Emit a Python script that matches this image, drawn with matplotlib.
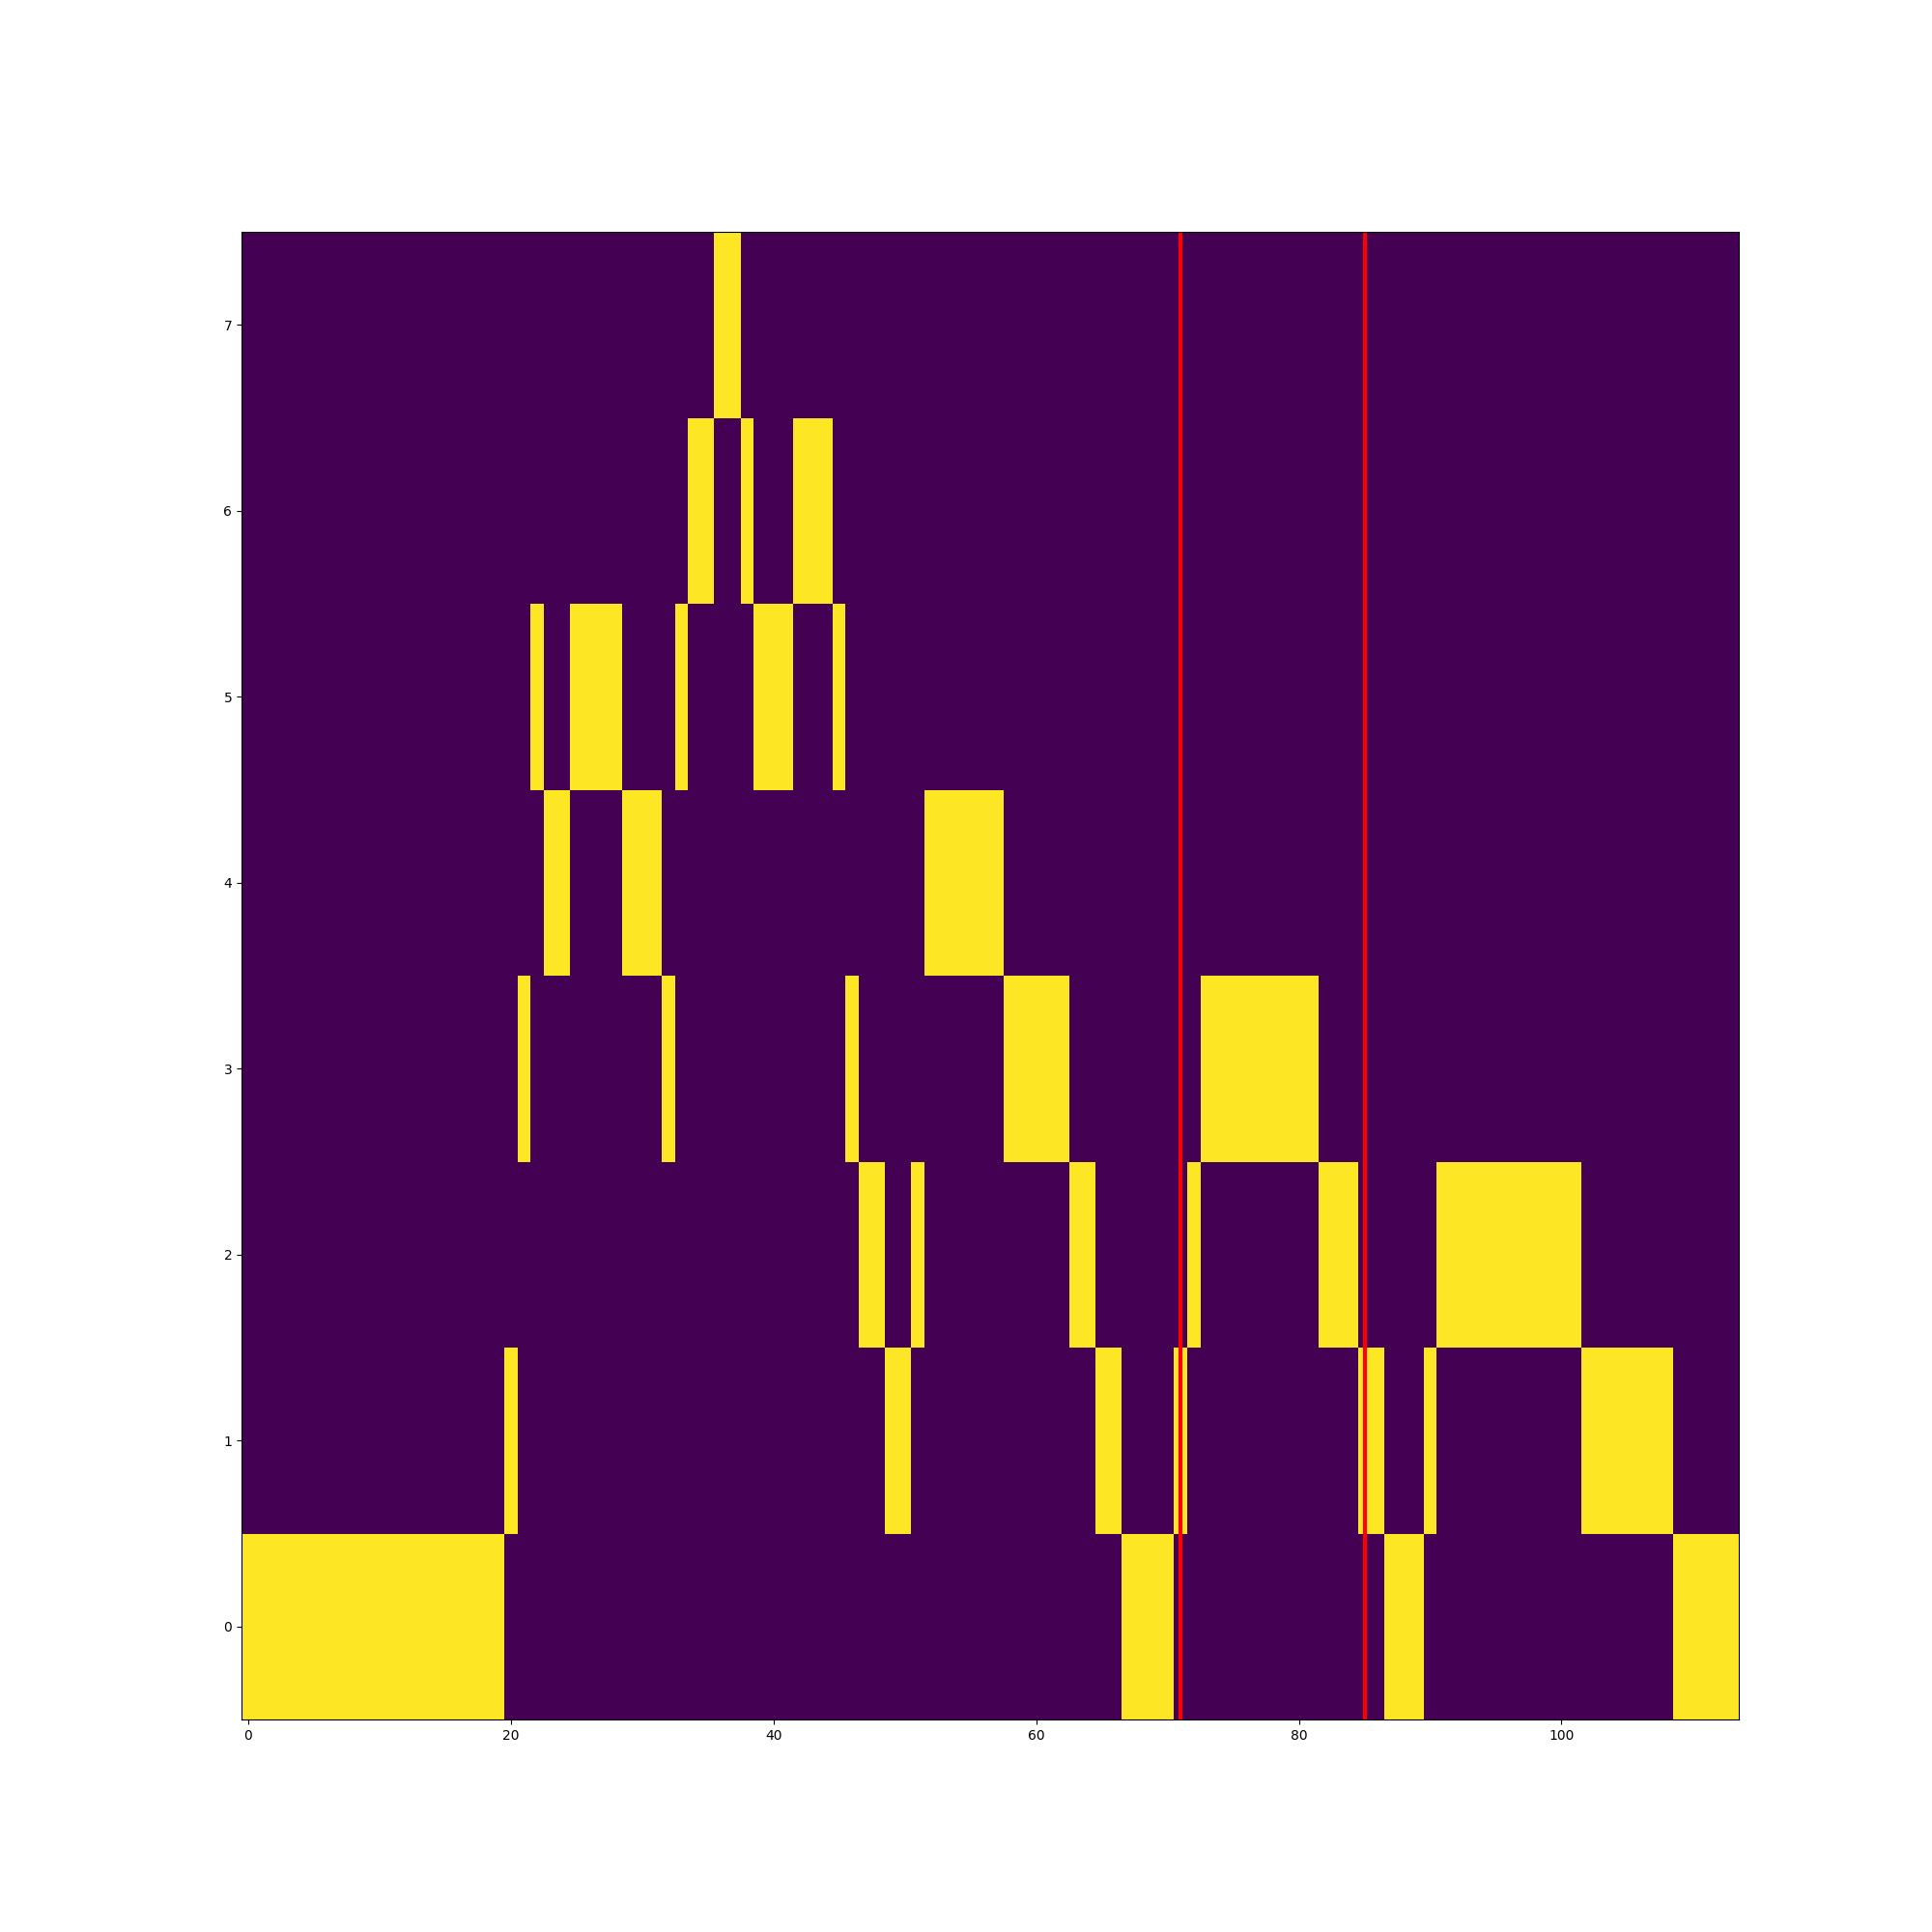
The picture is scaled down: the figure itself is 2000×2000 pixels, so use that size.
import numpy as np
from matplotlib import pyplot as plt

# state visited at each step (one yellow cell per column)
states = [0, 0, 0, 0, 0, 0, 0, 0, 0, 0, 0, 0, 0, 0, 0, 0, 0, 0, 0, 0,
          1, 3, 5, 4, 4, 5, 5, 5, 5, 4, 4, 4, 3, 5, 6, 6, 7, 7, 6, 5,
          5, 5, 6, 6, 6, 5, 3, 2, 2, 1, 1, 2, 4, 4, 4, 4, 4, 4, 3, 3,
          3, 3, 3, 2, 2, 1, 1, 0, 0, 0, 0, 1, 2, 3, 3, 3, 3, 3, 3, 3,
          3, 3, 2, 2, 2, 1, 1, 0, 0, 0, 1, 2, 2, 2, 2, 2, 2, 2, 2, 2,
          2, 2, 1, 1, 1, 1, 1, 1, 1, 0, 0, 0, 0, 0]
n_states = 8
markers = [71, 85]

if __name__ == '__main__':
    mat = np.zeros((n_states, len(states)))
    for t, s in enumerate(states):
        mat[s, t] = 1

    fig = plt.figure(figsize=(20, 20), dpi=100)
    plt.imshow(mat, aspect='auto', origin='lower', interpolation='nearest', cmap='viridis')
    for m in markers:
        plt.axvline(m, color='red', linewidth=3)
    plt.savefig('out.png')
